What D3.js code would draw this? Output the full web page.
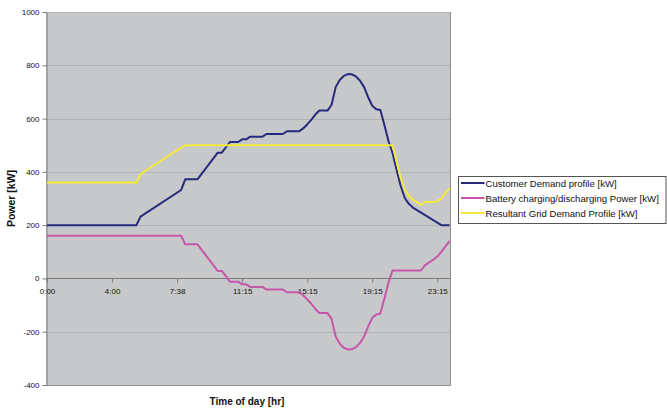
<!DOCTYPE html>
<html>
<head>
<meta charset="utf-8">
<script src="https://cdn.jsdelivr.net/npm/d3@7"></script>
<style>
  html, body { margin: 0; padding: 0; background: #ffffff; }
  svg { display: block; font-family: "Liberation Sans", Arial, Helvetica, sans-serif; }
</style>
</head>
<body>
<svg id="chart" width="667" height="408"></svg>
<script>
// Time slots of the day (100 readings); every 16th slot is labelled.
const slotCount = 100;
const tickEvery = 16;
const timeLabels = ["0:00", "4:00", "7:38", "11:15", "15:15", "19:15", "23:15"];
const powerTicks = [-400, -200, 0, 200, 400, 600, 800, 1000];

// [slot, kW] readings for each profile
const customerDemand = [
  [0, 200], [22, 200], [23, 232], [33, 332], [34, 372], [37, 372], [42, 472], [43, 472],
  [45, 512], [47, 512], [48, 522], [49, 522], [50, 532], [53, 532], [54, 542], [58, 542],
  [59, 552], [62, 552], [63, 563], [64, 578], [65, 595], [66, 615], [67, 630], [69, 630],
  [70, 652], [71, 718], [72, 745], [73, 760], [74, 767], [75, 766], [76, 758], [77, 742],
  [78, 718], [79, 680], [80, 648], [81, 635], [82, 632], [83, 575], [84, 515], [85, 470],
  [86, 407], [87, 347], [88, 302], [89, 280], [90, 266], [97, 200], [99, 200]
];
const batteryPower = [
  [0, 160], [33, 160], [34, 128], [37, 128], [42, 28], [43, 28], [45, -12], [47, -12],
  [48, -22], [49, -22], [50, -32], [53, -32], [54, -42], [58, -42], [59, -52], [62, -52],
  [63, -63], [64, -78], [65, -95], [66, -115], [67, -130], [69, -130], [70, -152], [71, -218],
  [72, -245], [73, -260], [74, -267], [75, -266], [76, -258], [77, -242], [78, -218], [79, -180],
  [80, -148], [81, -135], [82, -132], [83, -75], [84, -15], [85, 30], [92, 30], [93, 50],
  [94, 60], [95, 70], [96, 82], [97, 100], [98, 120], [99, 140]
];
const gridDemand = [
  [0, 360], [22, 360], [23, 392], [34, 500], [85, 500], [86, 437], [87, 377], [88, 332],
  [89, 310], [90, 296], [91, 286], [92, 276], [93, 287], [95, 287], [96, 290], [97, 300],
  [98, 320], [99, 340]
];

const seriesNames = [
  "Customer Demand profile [kW]",
  "Battery charging/discharging Power [kW]",
  "Resultant Grid Demand Profile [kW]"
];
const seriesColors = ["#262a7c", "#c556ab", "#f3e93a"];
const seriesData = [customerDemand, batteryPower, gridDemand];

const svg = d3.select("#chart");
const plot = { left: 46, right: 450, top: 12, bottom: 385 };

const x = d3.scaleLinear().domain([0, slotCount - 1]).range([47, 449.5]);
const y = d3.scaleLinear().domain([-400, 1000]).range([plot.bottom, plot.top]);

// plot background
svg.append("rect")
  .attr("x", plot.left).attr("y", plot.top)
  .attr("width", plot.right - plot.left).attr("height", plot.bottom - plot.top)
  .attr("fill", "#c7c8ca");

// horizontal gridlines
svg.append("g").selectAll("line")
  .data(powerTicks.filter(v => v !== 0 && v !== -400))
  .join("line")
  .attr("x1", plot.left).attr("x2", plot.right)
  .attr("y1", d => Math.round(y(d)) + 0.5).attr("y2", d => Math.round(y(d)) + 0.5)
  .attr("stroke", "#b1b2b4").attr("stroke-width", 1);

// plot border (right and bottom)
svg.append("path")
  .attr("d", `M${plot.left},${plot.bottom + 0.5}H${plot.right + 0.5}V${plot.top}`)
  .attr("fill", "none").attr("stroke", "#8e8e8e").attr("stroke-width", 1);

// y axis
const yAxis = svg.append("g")
  .attr("transform", `translate(${plot.left + 0.5},0)`)
  .call(d3.axisLeft(y).tickValues(powerTicks).tickFormat(d => String(d))
    .tickSize(4).tickPadding(3).tickSizeOuter(0));
yAxis.select(".domain").attr("stroke", "#7a7a7a");
yAxis.selectAll(".tick line").attr("stroke", "#7a7a7a");
yAxis.selectAll("text").attr("font-size", 8).attr("fill", "#111");

// x axis along the zero line
const xAxis = svg.append("g")
  .attr("transform", `translate(0,${Math.round(y(0)) + 0.5})`)
  .call(d3.axisBottom(x)
    .tickValues(d3.range(0, slotCount, tickEvery))
    .tickFormat(i => timeLabels[i / tickEvery])
    .tickSize(4).tickPadding(6).tickSizeOuter(0));
xAxis.select(".domain").attr("d", `M${plot.left},0H${plot.right}`).attr("stroke", "#7a7a7a");
xAxis.selectAll(".tick line").attr("stroke", "#7a7a7a");
xAxis.selectAll("text").attr("font-size", 8).attr("fill", "#111");

// series lines
const line = d3.line().x(d => x(d[0])).y(d => y(d[1]));
svg.append("g").selectAll("path")
  .data(seriesData)
  .join("path")
  .attr("d", line)
  .attr("fill", "none")
  .attr("stroke", (d, i) => seriesColors[i])
  .attr("stroke-width", 2)
  .attr("stroke-linejoin", "round");

// axis titles
svg.append("text")
  .attr("transform", `translate(15,${(plot.top + plot.bottom) / 2}) rotate(-90)`)
  .attr("text-anchor", "middle")
  .attr("font-size", 10.5).attr("font-weight", "bold").attr("fill", "#111")
  .text("Power [kW]");
svg.append("text")
  .attr("x", 247).attr("y", 405)
  .attr("text-anchor", "middle")
  .attr("font-size", 10).attr("font-weight", "bold").attr("fill", "#111")
  .text("Time of day [hr]");

// legend
const legend = svg.append("g");
legend.append("rect")
  .attr("x", 458.5).attr("y", 176.5).attr("width", 207.5).attr("height", 47)
  .attr("fill", "#ffffff").attr("stroke", "#555").attr("stroke-width", 1);
const rows = legend.selectAll("g.row")
  .data(seriesNames)
  .join("g").attr("class", "row")
  .attr("transform", (d, i) => `translate(0,${183 + i * 15})`);
rows.append("line")
  .attr("x1", 461).attr("x2", 484.5).attr("y1", 0).attr("y2", 0)
  .attr("stroke", (d, i) => seriesColors[i]).attr("stroke-width", 2);
rows.append("text")
  .attr("x", 485.5).attr("y", 3.5)
  .attr("font-size", 9.6).attr("fill", "#111")
  .text(d => d);
</script>
</body>
</html>
